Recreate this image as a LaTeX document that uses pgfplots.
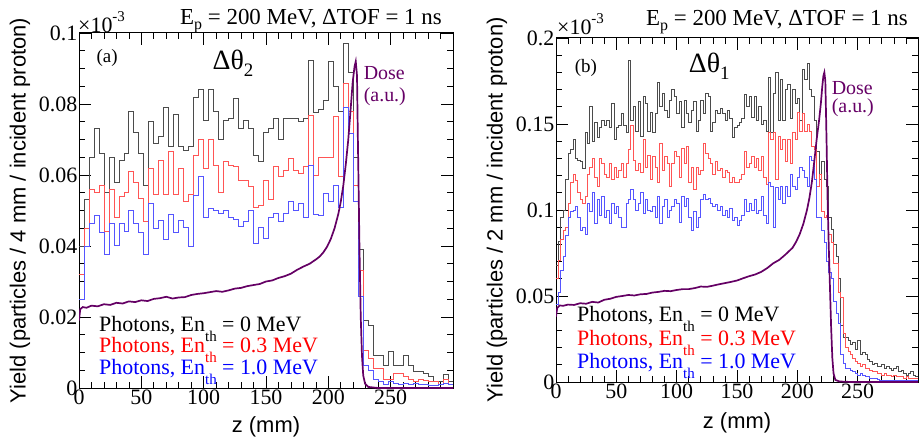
\documentclass[border=0pt]{standalone}
\usepackage{fontspec}
\setmainfont{Liberation Serif}
\newfontfamily\sansf{Liberation Sans}
\usepackage{graphicx}
\usepackage{pgfplots}
\usepackage{pgfplotstable}
\pgfplotsset{compat=1.18}
\definecolor{hk}{RGB}{75,75,75}
\definecolor{hr}{RGB}{255,85,85}
\definecolor{hb}{RGB}{85,85,255}
\definecolor{dose}{RGB}{100,0,100}
\definecolor{dosetxt}{RGB}{102,0,102}
\newcommand\fs[1]{\fontsize{#1}{#1}\selectfont}
\newcommand\subth{\raisebox{-10bp}{\fs{15}th}}

\pgfplotstableread{
z k r b
0 0.040 0.032 0.025
4 0.053 0.045 0.040
8 0.065 0.056 0.0465
12 0.073 0.055 0.0487
16 0.066 0.057 0.0437
20 0.055 0.044 0.0375
24 0.065 0.056 0.0465
28 0.058 0.048 0.0403
32 0.064 0.054 0.0465
36 0.066 0.055 0.0441
40 0.078 0.061 0.050
44 0.072 0.058 0.0465
48 0.066 0.0535 0.0437
52 0.057 0.047 0.0375
56 0.075 0.062 0.052
60 0.069 0.0545 0.045
64 0.071 0.064 0.0473
68 0.079 0.0545 0.042
72 0.068 0.0667 0.049
76 0.077 0.0545 0.0437
80 0.068 0.062 0.0473
84 0.067 0.0525 0.0452
88 0.068 0.0545 0.040
92 0.082 0.0654 0.0542
96 0.084 0.070 0.0595
100 0.0755 0.062 0.048
104 0.084 0.070 0.0506
108 0.078 0.0628 0.050
112 0.070 0.055 0.0492
116 0.0755 0.0637 0.050
120 0.076 0.0628 0.048
124 0.0816 0.0623 0.0474
128 0.073 0.0586 0.0455
132 0.0755 0.0586 0.047
136 0.073 0.0567 0.050
140 0.0654 0.051 0.0407
144 0.0637 0.0515 0.0452
148 0.072 0.0586 0.0422
152 0.073 0.053 0.048
156 0.076 0.0623 0.0492
160 0.070 0.0596 0.047
164 0.076 0.0614 0.0492
168 0.076 0.0646 0.0525
172 0.076 0.0614 0.050
176 0.075 0.0605 0.052
180 0.076 0.0623 0.048
184 0.0924 0.0769 0.0628
188 0.0775 0.060 0.049
192 0.0785 0.065 0.0485
196 0.081 0.065 0.0548
200 0.092 0.065 0.0525
204 0.085 0.0764 0.057
208 0.078 0.0596 0.051
212 0.097 0.0858 0.079
216 0.089 0.0778 0.0718
220 0.065 0.0572 0.0525
224 0.039 0.033 0.0257
228 0.019 0.0107 0.0065
232 0.0175 0.0084 0.0051
236 0.0093 0.0056 0.0023
240 0.0093 0.0056 0.0020
244 0.0063 0.0023 0.0010
248 0.0103 0.0023 0.0018
252 0.0065 0.0042 0.0014
256 0.0063 0.0040 0.0010
260 0.0093 0.0033 0.0012
264 0.0065 0.0023 0.0010
268 0.0046 0.0019 0.0012
272 0.0046 0.0023 0.0010
276 0.0042 0.0021 0.0011
280 0.0033 0.0019 0.0008
284 0.0018 0.0019 0.0008
288 0.0018 0.0010 0.0010
292 0.0038 0.0023 0.0014
296 0.0018 0.0010 0.0010
300 0.0018 0.0010 0.0010
}\lefttab

\pgfplotstableread{
z k r b
0 0.068 0.060 0.045
2 0.082 0.071 0.052
4 0.096 0.083 0.065
6 0.100 0.088 0.073
8 0.118 0.090 0.085
10 0.133 0.104 0.096
12 0.135 0.116 0.099
14 0.141 0.121 0.100
16 0.130 0.117 0.102
18 0.129 0.110 0.096
20 0.128 0.106 0.088
22 0.124 0.104 0.090
24 0.145 0.108 0.086
26 0.139 0.121 0.104
28 0.160 0.125 0.099
30 0.140 0.130 0.110
32 0.151 0.119 0.092
34 0.142 0.114 0.106
36 0.148 0.130 0.097
38 0.152 0.127 0.108
40 0.149 0.121 0.096
42 0.152 0.119 0.100
44 0.148 0.127 0.092
46 0.162 0.118 0.104
48 0.141 0.125 0.098
50 0.148 0.119 0.102
52 0.149 0.123 0.096
54 0.156 0.127 0.090
56 0.149 0.119 0.090
58 0.145 0.127 0.104
60 0.187 0.135 0.106
62 0.152 0.149 0.112
64 0.160 0.129 0.106
66 0.146 0.123 0.100
68 0.163 0.127 0.104
70 0.143 0.122 0.110
72 0.166 0.141 0.098
74 0.162 0.125 0.106
76 0.146 0.132 0.100
78 0.157 0.118 0.099
80 0.145 0.131 0.102
82 0.156 0.125 0.096
84 0.174 0.116 0.108
86 0.160 0.139 0.092
88 0.168 0.123 0.102
90 0.158 0.131 0.106
92 0.154 0.127 0.096
94 0.164 0.114 0.100
96 0.170 0.127 0.102
98 0.166 0.134 0.106
100 0.156 0.131 0.104
102 0.163 0.119 0.093
104 0.148 0.136 0.108
106 0.164 0.127 0.102
108 0.156 0.137 0.107
110 0.151 0.116 0.096
112 0.158 0.125 0.088
114 0.163 0.112 0.099
116 0.146 0.125 0.090
118 0.152 0.121 0.096
120 0.164 0.123 0.106
122 0.156 0.139 0.109
124 0.168 0.133 0.106
126 0.166 0.130 0.107
128 0.146 0.127 0.104
130 0.151 0.121 0.102
132 0.158 0.128 0.103
134 0.156 0.123 0.100
136 0.159 0.124 0.102
138 0.156 0.119 0.097
140 0.152 0.123 0.100
142 0.158 0.122 0.096
144 0.153 0.116 0.101
146 0.142 0.119 0.094
148 0.148 0.116 0.096
150 0.149 0.116 0.091
152 0.151 0.118 0.094
154 0.153 0.121 0.097
156 0.167 0.134 0.106
158 0.160 0.125 0.099
160 0.166 0.127 0.104
162 0.154 0.131 0.100
164 0.166 0.125 0.106
166 0.152 0.130 0.098
168 0.160 0.123 0.100
170 0.150 0.131 0.108
172 0.152 0.119 0.097
174 0.146 0.115 0.092
176 0.177 0.145 0.116
178 0.145 0.141 0.114
180 0.168 0.145 0.090
182 0.180 0.118 0.113
184 0.152 0.143 0.106
186 0.176 0.135 0.114
188 0.152 0.141 0.104
190 0.170 0.128 0.114
192 0.173 0.141 0.108
194 0.153 0.127 0.121
196 0.170 0.145 0.114
198 0.162 0.141 0.112
200 0.165 0.157 0.119
202 0.152 0.146 0.125
204 0.182 0.156 0.123
206 0.176 0.146 0.119
208 0.185 0.150 0.114
210 0.170 0.146 0.131
212 0.166 0.137 0.129
214 0.152 0.135 0.118
216 0.134 0.114 0.096
218 0.118 0.121 0.096
220 0.128 0.099 0.088
222 0.118 0.096 0.081
224 0.114 0.097 0.070
226 0.096 0.086 0.064
228 0.089 0.081 0.060
230 0.080 0.069 0.047
232 0.073 0.069 0.040
234 0.060 0.052 0.034
236 0.033 0.049 0.016
238 0.026 0.028 0.011
240 0.026 0.020 0.008
242 0.024 0.018 0.008
244 0.022 0.016 0.007
246 0.023 0.014 0.006
248 0.019 0.012 0.005
250 0.024 0.011 0.004
252 0.016 0.009 0.005
254 0.017 0.010 0.004
256 0.016 0.008 0.003
258 0.013 0.008 0.003
260 0.012 0.007 0.002
262 0.010 0.006 0.002
264 0.011 0.006 0.002
266 0.009 0.005 0.0015
268 0.009 0.005 0.001
270 0.010 0.004 0.001
272 0.008 0.005 0.001
274 0.009 0.004 0.001
276 0.008 0.004 0.001
278 0.007 0.003 0.001
280 0.008 0.004 0.001
282 0.009 0.003 0.001
284 0.006 0.003 0.001
286 0.007 0.003 0.001
288 0.005 0.002 0.001
290 0.004 0.003 0.001
292 0.005 0.002 0.001
294 0.006 0.002 0.001
296 0.004 0.002 0.001
298 0.003 0.002 0.001
300 0.003 0.002 0.001
}\righttab

\pgfplotsset{rootax/.style={
  scale only axis, xmin=0, xmax=300, ymin=0,
  axis line style={line width=1bp},
  tick style={black, line width=0.7bp},
  major tick length=12bp, minor tick length=6bp,
  xtick={0,50,100,150,200,250,300},
  xticklabels={0,50,100,150,200,250,{}},
  minor x tick num=4,
  xtick pos=both, ytick pos=both,
  ticklabel style={font=\fs{22}, inner sep=1.5bp},
  label style={font=\sansf\fs{22}},
  xlabel={z (mm)},
  every axis plot/.append style={line join=miter},
}}

\begin{document}
\begin{tikzpicture}
\path[use as bounding box] (0,0) rectangle (922bp,442bp);

% ---------------- left panel ----------------
\begin{axis}[rootax, name=L, at={(79bp,54bp)}, anchor=south west,
  width=374bp, height=355bp, ymax=0.1,
  ytick={0,0.02,0.04,0.06,0.08,0.1},
  yticklabels={0,0.02,0.04,0.06,0.08,0.1},
  minor y tick num=3,
  ylabel={Yield (particles / 4 mm / incident proton)},
  ylabel style={at={(axis description cs:-0.158,0.5)}, anchor=center},
  xlabel style={at={(axis description cs:0.5,0)}, anchor=base, yshift=-44bp}]
\addplot[const plot mark left, hk, line width=0.75bp] table[x=z, y=k] {\lefttab};
\addplot[const plot mark left, hr, line width=0.75bp] table[x=z, y=r] {\lefttab};
\addplot[const plot mark left, hb, line width=0.75bp] table[x=z, y=b] {\lefttab};
\addplot[dose, line width=1.7bp] coordinates {
(0,0.019) (1,0.0222) (3,0.0228) (6,0.0226) (10,0.0232) (15,0.0230) (20,0.0236) (25,0.0234)
(30,0.0240) (35,0.0238) (40,0.0244) (45,0.0242) (50,0.0247) (55,0.0245) (60,0.0251) (65,0.0253)
(70,0.0257) (75,0.0252) (80,0.0255) (85,0.0256) (90,0.0262) (95,0.0265) (100,0.0267) (105,0.0270)
(110,0.0273) (115,0.0271) (120,0.0275) (125,0.0280) (130,0.0282) (135,0.0287) (140,0.0290)
(145,0.0293) (150,0.0300) (155,0.0303) (160,0.0310) (165,0.0315) (170,0.0322) (175,0.0333)
(180,0.0342) (185,0.0350) (190,0.0362) (193,0.0370) (196,0.0382) (199,0.0398) (202,0.0420)
(205,0.0450) (208,0.0490) (210,0.0525) (212,0.0570) (214,0.0630) (216,0.0700) (218,0.0790)
(219.5,0.0860) (221,0.0905) (222,0.0920) (223,0.0880) (223.7,0.070) (224.3,0.056) (225,0.039)
(226,0.020) (227,0.009) (228,0.0035) (229.5,0.0012) (232,0.0003) (240,0.0) (300,0.0)};
\node[anchor=base west, inner sep=0, font=\fs{19}] at (axis cs:14.0,0.0916) {(a)};
\node[anchor=base west, inner sep=0, font=\fs{28}] at (axis cs:107,0.0898) {Δθ\raisebox{-7bp}{\fs{19}2}};
\node[anchor=base west, inner sep=0, font=\fs{20}, text=dosetxt] at (axis cs:228.3,0.0868) {Dose};
\node[anchor=base west, inner sep=0, font=\fs{20}, text=dosetxt] at (axis cs:228.3,0.0806) {(a.u.)};
\node[anchor=base west, inner sep=0, font=\fs{22}, text=black] at (axis cs:16,0.0158) {Photons, En\subth{} = 0 MeV};
\node[anchor=base west, inner sep=0, font=\fs{22}, text=red] at (axis cs:16,0.0101) {Photons, En\subth{} = 0.3 MeV};
\node[anchor=base west, inner sep=0, font=\fs{22}, text=blue] at (axis cs:16,0.0037) {Photons, En\subth{} = 1.0 MeV};
\end{axis}
\node[anchor=base east, inner sep=0, font=\fs{23}] at ([xshift=-11bp, yshift=8bp]L.north east)
  {E\raisebox{-5bp}{\fs{16}p} = 200 MeV, ΔTOF = 1 ns};
\node[anchor=base west, inner sep=0, font=\fs{22}] at ([xshift=-1bp, yshift=0bp]L.north west)
  {×10\raisebox{11bp}{\fs{15}-3}};

% ---------------- right panel ----------------
\begin{axis}[rootax, name=R, at={(556bp,60bp)}, anchor=south west,
  width=362bp, height=344bp, ymax=0.2,
  ytick={0,0.05,0.1,0.15,0.2},
  yticklabels={0,0.05,0.1,0.15,0.2},
  minor y tick num=4,
  ylabel={Yield (particles / 2 mm / incident proton)},
  ylabel style={at={(axis description cs:-0.163,0.5)}, anchor=center},
  xlabel style={at={(axis description cs:0.5,0)}, anchor=base, yshift=-46bp}]
\addplot[const plot mark left, hk, line width=0.75bp] table[x=z, y=k] {\righttab};
\addplot[const plot mark left, hr, line width=0.75bp] table[x=z, y=r] {\righttab};
\addplot[const plot mark left, hb, line width=0.75bp] table[x=z, y=b] {\righttab};
\addplot[dose, line width=1.7bp] coordinates {
(0,0.038) (1,0.043) (3,0.0445) (6,0.0443) (10,0.0450) (15,0.0448) (20,0.0458) (25,0.0455)
(30,0.0466) (35,0.0462) (40,0.0478) (45,0.0484) (50,0.0495) (55,0.0500) (60,0.0506) (65,0.0503)
(70,0.0510) (75,0.0512) (80,0.0520) (85,0.0524) (90,0.0530) (95,0.0528) (100,0.0535) (105,0.0540)
(110,0.0540) (115,0.0546) (120,0.0555) (125,0.0553) (130,0.0560) (135,0.0568) (140,0.0575)
(145,0.0582) (150,0.0590) (155,0.0603) (160,0.0615) (165,0.0625) (170,0.0640) (175,0.0662)
(180,0.0690) (185,0.0710) (190,0.0740) (193,0.0760) (196,0.0780) (199,0.0815) (202,0.0860)
(205,0.0920) (208,0.1000) (210,0.1070) (212,0.1160) (214,0.1280) (216,0.1410) (218,0.1520)
(219.5,0.1620) (220.7,0.1720) (221.6,0.1780) (222.4,0.1800) (223.2,0.1750) (223.8,0.1550)
(224.3,0.1370) (225,0.1080) (226,0.0800) (227,0.0560) (228,0.0320) (229,0.0140) (230,0.0050)
(231.5,0.0012) (235,0.0003) (245,0) (300,0)};
\node[anchor=base west, inner sep=0, font=\fs{19}] at (axis cs:15.5,0.1798) {(b)};
\node[anchor=base west, inner sep=0, font=\fs{28}] at (axis cs:110,0.1800) {Δθ\raisebox{-7bp}{\fs{19}1}};
\node[anchor=base west, inner sep=0, font=\fs{20}, text=dosetxt] at (axis cs:228.4,0.1669) {Dose};
\node[anchor=base west, inner sep=0, font=\fs{20}, text=dosetxt] at (axis cs:228.4,0.1564) {(a.u.)};
\node[anchor=base west, inner sep=0, font=\fs{22}, text=black] at (axis cs:17.4,0.0349) {Photons, En\subth{} = 0 MeV};
\node[anchor=base west, inner sep=0, font=\fs{22}, text=red] at (axis cs:17.4,0.0215) {Photons, En\subth{} = 0.3 MeV};
\node[anchor=base west, inner sep=0, font=\fs{22}, text=blue] at (axis cs:17.4,0.0081) {Photons, En\subth{} = 1.0 MeV};
\end{axis}
\node[anchor=base east, inner sep=0, font=\fs{23}] at ([xshift=-10bp, yshift=12bp]R.north east)
  {E\raisebox{-5bp}{\fs{16}p} = 200 MeV, ΔTOF = 1 ns};
\node[anchor=base west, inner sep=0, font=\fs{22}] at ([xshift=1bp, yshift=3bp]R.north west)
  {×10\raisebox{11bp}{\fs{15}-3}};
\end{tikzpicture}
\end{document}
